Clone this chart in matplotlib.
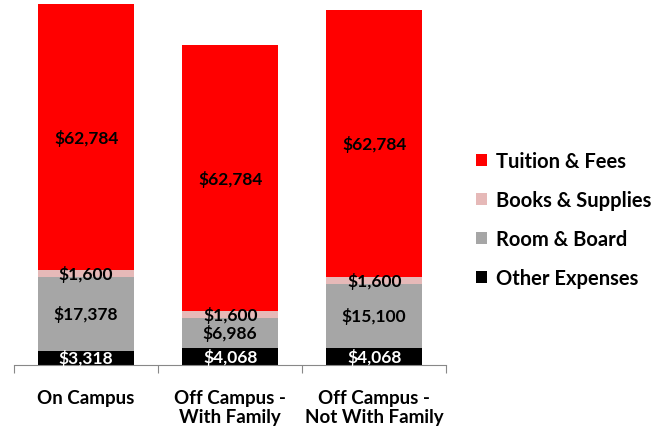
import matplotlib
matplotlib.use('Agg')
import matplotlib.pyplot as plt
import numpy as np

categories = ['On Campus', 'Off Campus -\nWith Family', 'Off Campus -\nNot With Family']
other = [3318, 4068, 4068]
room = [17378, 6986, 15100]
books = [1600, 1600, 1600]
tuition = [62784, 62784, 62784]

series = [
    ('Other Expenses', other, '#000000', 'white'),
    ('Room & Board', room, '#a6a6a6', 'black'),
    ('Books & Supplies', books, '#e6b9b8', 'black'),
    ('Tuition & Fees', tuition, '#ff0000', 'black'),
]

plt.rcParams['font.family'] = ['Lato', 'DejaVu Sans']

fig = plt.figure(figsize=(6.7, 4.31), dpi=100)
ax = fig.add_axes([0.021, 0.151, 0.645, 0.849])

x = np.arange(len(categories))
bottom = np.zeros(len(categories))
handles = []
for name, vals, color, tcolor in series:
    vals = np.array(vals, dtype=float)
    b = ax.bar(x, vals, 0.67, bottom=bottom, color=color, label=name)
    handles.append(b)
    for xi, v, bt in zip(x, vals, bottom):
        ax.text(xi, bt + v / 2, f'${int(v):,}', ha='center', va='center',
                color=tcolor, fontsize=12.5, fontweight='bold')
    bottom += vals

ax.set_xlim(-0.5, 2.5)
ax.set_ylim(0, 86258)
for s in ['top', 'right', 'left']:
    ax.spines[s].set_visible(False)
ax.spines['bottom'].set_color('#888888')
ax.set_yticks([])
ax.set_xticks([-0.5, 0.5, 1.5, 2.5])
ax.set_xticklabels([])
ax.tick_params(axis='x', length=6, color='#888888')
ax.set_xticks(x, minor=True)
ax.set_xticklabels(categories, minor=True, fontsize=13.5, fontweight='bold')
ax.tick_params(axis='x', which='minor', length=0, pad=17)

leg = fig.legend(handles[::-1], [s[0] for s in series][::-1], loc='center left',
                 bbox_to_anchor=(0.684, 0.488), frameon=False,
                 handlelength=0.55, handleheight=0.55, handletextpad=0.4,
                 labelspacing=0.95, prop={'weight': 'bold', 'size': 14.5})

fig.savefig('out.png', dpi=100)
